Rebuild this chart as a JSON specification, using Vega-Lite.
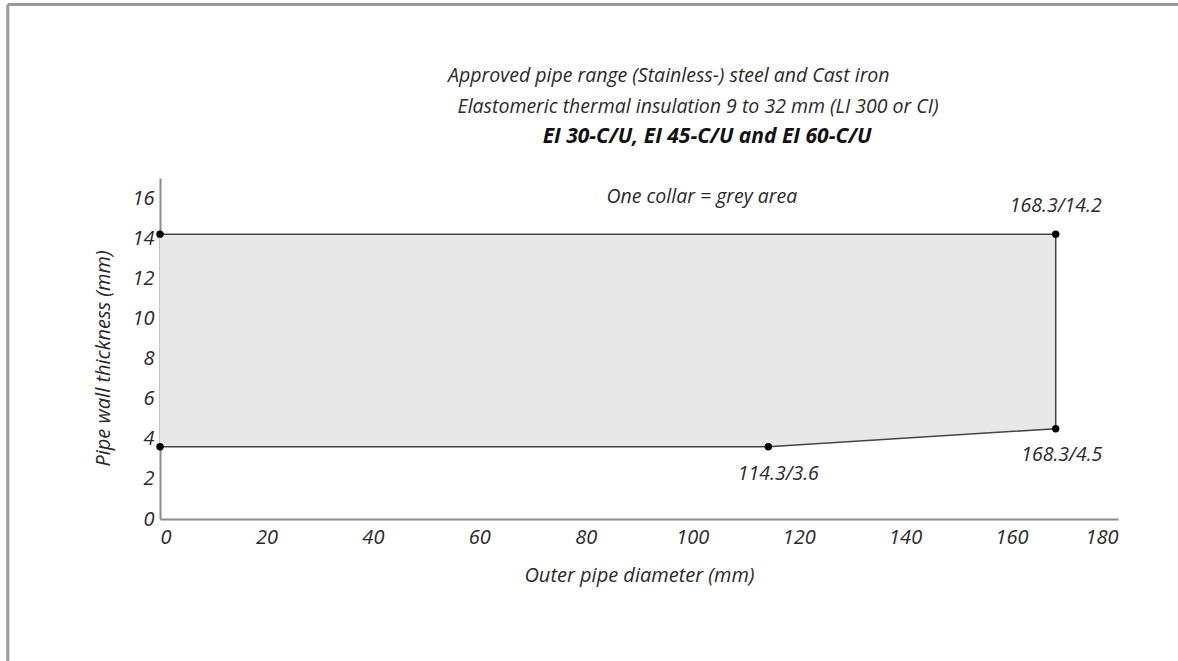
{
  "$schema": "https://vega.github.io/schema/vega-lite/v6.json",
  "width": 958,
  "height": 341,
  "autosize": {"type": "none"},
  "padding": {"left": 160, "top": 178, "right": 60, "bottom": 142},
  "background": "white",
  "config": {
    "view": {"stroke": null},
    "font": "Open Sans",
    "axis": {
      "grid": false,
      "ticks": false,
      "domainColor": "#8a8a8a",
      "domainWidth": 2,
      "labelFont": "Open Sans",
      "labelFontStyle": "italic",
      "labelFontSize": 20,
      "labelColor": "#2a2a2a",
      "titleFont": "Open Sans",
      "titleFontStyle": "italic",
      "titleFontWeight": "normal",
      "titleFontSize": 20,
      "titleColor": "#2a2a2a"
    }
  },
  "datasets": {
    "shape": [
      {"d": 0, "top": 14.2, "bottom": 3.6},
      {"d": 114.3, "top": 14.2, "bottom": 3.6},
      {"d": 168.3, "top": 14.2, "bottom": 4.5}
    ],
    "outline": [
      {"o": 1, "d": 0, "t": 14.2},
      {"o": 2, "d": 168.3, "t": 14.2},
      {"o": 3, "d": 168.3, "t": 4.5},
      {"o": 4, "d": 114.3, "t": 3.6},
      {"o": 5, "d": 0, "t": 3.6}
    ],
    "points": [
      {"d": 0, "t": 14.2, "label": "", "pos": "none"},
      {"d": 168.3, "t": 14.2, "label": "168.3/14.2", "pos": "above"},
      {"d": 168.3, "t": 4.5, "label": "168.3/4.5", "pos": "belowR"},
      {"d": 114.3, "t": 3.6, "label": "114.3/3.6", "pos": "below"},
      {"d": 0, "t": 3.6, "label": "", "pos": "none"}
    ],
    "notes": [
      {"x": 95.6, "y": 22.1, "text": "Approved pipe range (Stainless-) steel and Cast iron", "w": "normal"},
      {"x": 101.1, "y": 20.55, "text": "Elastomeric thermal insulation 9 to 32 mm (LI 300 or CI)", "w": "normal"},
      {"x": 102.8, "y": 19.05, "text": "EI 30-C/U, EI 45-C/U and EI 60-C/U", "w": "bold"},
      {"x": 101.8, "y": 16.05, "text": "One collar = grey area", "w": "normal"}
    ],
    "frameV": [{"x": -28.6, "y1": -7.2, "y2": 25.65}],
    "frameH": [{"y": 25.65, "x1": -28.6, "x2": 191.5}]
  },
  "layer": [
    {
      "data": {"name": "frameV"},
      "mark": {"type": "rule", "color": "#9a9a9a", "strokeWidth": 3},
      "encoding": {
        "x": {"field": "x", "type": "quantitative", "scale": {"domain": [0, 180]}},
        "y": {"field": "y1", "type": "quantitative", "scale": {"domain": [0, 17]}},
        "y2": {"field": "y2"}
      }
    },
    {
      "data": {"name": "frameH"},
      "mark": {"type": "rule", "color": "#9a9a9a", "strokeWidth": 3},
      "encoding": {
        "y": {"field": "y", "type": "quantitative"},
        "x": {"field": "x1", "type": "quantitative"},
        "x2": {"field": "x2"}
      }
    },
    {
      "data": {"name": "shape"},
      "mark": {"type": "area", "color": "#e8e8e8", "opacity": 1},
      "encoding": {
        "x": {"field": "d", "type": "quantitative", "scale": {"domain": [0, 180], "nice": false}, "axis": {"title": "Outer pipe diameter (mm)", "values": [0, 20, 40, 60, 80, 100, 120, 140, 160, 180], "labelFontSize": 20, "labelPadding": 8, "titlePadding": 18}},
        "y": {"field": "top", "type": "quantitative", "scale": {"domain": [0, 17], "nice": false}, "axis": {"title": "Pipe wall thickness (mm)", "values": [0, 2, 4, 6, 8, 10, 12, 14, 16], "labelFontSize": 20, "labelPadding": 6, "titlePadding": 18, "titleY": 180}},
        "y2": {"field": "bottom"}
      }
    },
    {
      "data": {"name": "outline"},
      "mark": {"type": "line", "color": "#444444", "strokeWidth": 1.5},
      "encoding": {
        "x": {"field": "d", "type": "quantitative"},
        "y": {"field": "t", "type": "quantitative"},
        "order": {"field": "o", "type": "quantitative"}
      }
    },
    {
      "data": {"name": "points"},
      "mark": {"type": "circle", "color": "#000000", "opacity": 1, "size": 55},
      "encoding": {
        "x": {"field": "d", "type": "quantitative"},
        "y": {"field": "t", "type": "quantitative"}
      }
    },
    {
      "data": {"name": "points"},
      "transform": [{"filter": "datum.pos == 'above'"}],
      "mark": {"type": "text", "fontStyle": "italic", "fontSize": 19.5, "color": "#2a2a2a", "dx": 0, "dy": -28},
      "encoding": {
        "x": {"field": "d", "type": "quantitative"},
        "y": {"field": "t", "type": "quantitative"},
        "text": {"field": "label"}
      }
    },
    {
      "data": {"name": "points"},
      "transform": [{"filter": "datum.pos == 'belowR'"}],
      "mark": {"type": "text", "fontStyle": "italic", "fontSize": 19.5, "color": "#2a2a2a", "dx": 6, "dy": 26},
      "encoding": {
        "x": {"field": "d", "type": "quantitative"},
        "y": {"field": "t", "type": "quantitative"},
        "text": {"field": "label"}
      }
    },
    {
      "data": {"name": "points"},
      "transform": [{"filter": "datum.pos == 'below'"}],
      "mark": {"type": "text", "fontStyle": "italic", "fontSize": 19.5, "color": "#2a2a2a", "dx": 10, "dy": 27},
      "encoding": {
        "x": {"field": "d", "type": "quantitative"},
        "y": {"field": "t", "type": "quantitative"},
        "text": {"field": "label"}
      }
    },
    {
      "data": {"name": "notes"},
      "transform": [{"filter": "datum.w == 'normal'"}],
      "mark": {"type": "text", "fontStyle": "italic", "fontSize": 19.5, "color": "#2a2a2a"},
      "encoding": {
        "x": {"field": "x", "type": "quantitative"},
        "y": {"field": "y", "type": "quantitative"},
        "text": {"field": "text"}
      }
    },
    {
      "data": {"name": "notes"},
      "transform": [{"filter": "datum.w == 'bold'"}],
      "mark": {"type": "text", "fontStyle": "italic", "fontWeight": "bold", "fontSize": 21, "color": "#111111"},
      "encoding": {
        "x": {"field": "x", "type": "quantitative"},
        "y": {"field": "y", "type": "quantitative"},
        "text": {"field": "text"}
      }
    }
  ]
}
